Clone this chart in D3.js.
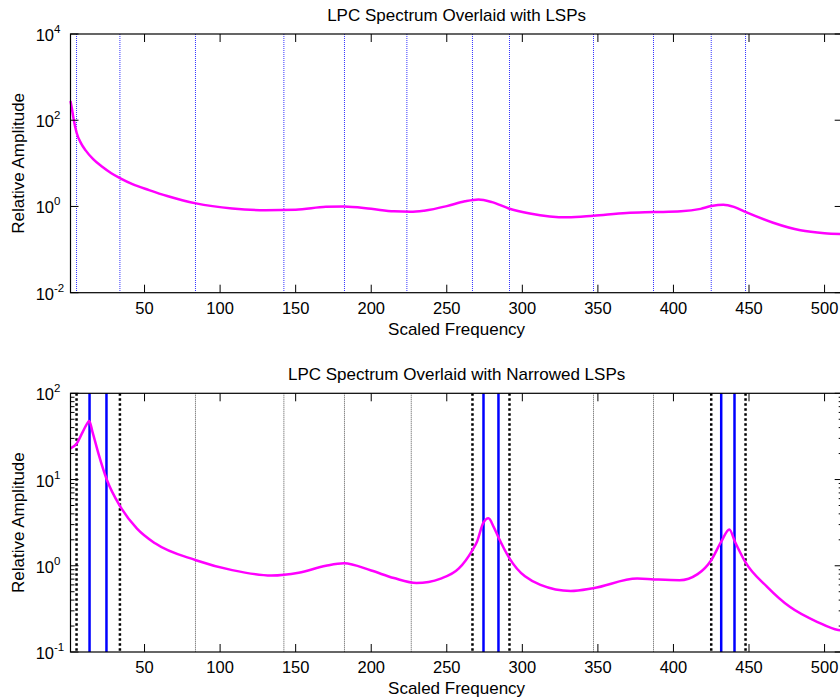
<!DOCTYPE html>
<html>
<head>
<meta charset="utf-8">
<script src="https://cdn.jsdelivr.net/npm/d3@7"></script>
<style>
  body { margin: 0; background: #fff; }
  text { font-family: Arial, "Liberation Sans", sans-serif; fill: #000; }
</style>
</head>
<body>
<div id="chart"></div>
<script>
var width = 840, height = 698;

// LSP frequencies (top plot)
var lspFreqs = [5, 33.7, 83.7, 142.2, 182.3, 223.6, 267, 291.5, 347.1, 386.8, 425, 447.7];
// bottom plot: wide LSPs (thin dotted), pair edges (thick dotted), narrowed LSPs (blue)
var wideLsps = [83.7, 142.2, 182.3, 226.5, 347.1, 386.8];
var pairEdges = [5, 33.7, 267, 291.5, 425, 447.7];
var narrowLsps = [13.6, 24.8, 274.3, 284.2, 431.6, 440.4];

// LPC spectrum
var specFreq = [1, 2, 3, 5, 8, 11, 16, 22, 28, 34, 42, 53, 65, 84, 108, 130, 150, 170, 182, 200, 215, 226, 235, 250, 262, 271, 280, 291, 305, 330, 347, 369, 387, 405, 418, 425, 433, 440, 448, 466, 484, 500, 512];
var specAmp  = [280, 180, 110, 52, 29, 20, 12.5, 8.3, 5.9, 4.5, 3.3, 2.4, 1.75, 1.18, 0.9, 0.82, 0.84, 0.98, 1.0, 0.88, 0.77, 0.75, 0.8, 1.02, 1.32, 1.46, 1.26, 0.9, 0.69, 0.56, 0.61, 0.71, 0.74, 0.77, 0.88, 1.02, 1.1, 0.98, 0.74, 0.42, 0.28, 0.24, 0.23];

// LPC spectrum with narrowed LSPs (bottom plot)
var narrowFreq = [1, 5, 8.5, 11.5, 13.4, 15.5, 19.5, 25, 34, 45, 57, 84, 108, 134, 152, 170, 182, 200, 215, 230, 246, 258, 267, 270, 274, 277.6, 281, 284, 291.5, 312, 332, 347, 376, 387, 404, 416, 425, 431.6, 437, 440.7, 447.5, 462, 477, 495, 509, 512];
var narrowAmp  = [23, 26, 34, 43, 47.8, 36, 20, 10, 4.84, 2.7, 1.82, 1.16, 0.89, 0.77, 0.83, 1.0, 1.07, 0.88, 0.72, 0.63, 0.71, 0.93, 1.52, 1.9, 3.1, 3.55, 2.83, 2.17, 1.22, 0.6, 0.51, 0.55, 0.71, 0.695, 0.68, 0.8, 1.16, 1.9, 2.64, 1.9, 1.11, 0.57, 0.334, 0.224, 0.18, 0.178];

var xTicks = [50, 100, 150, 200, 250, 300, 350, 400, 450, 500];

var svg = d3.select("#chart").append("svg")
    .attr("width", width)
    .attr("height", height);

var x = d3.scaleLinear().domain([1, 512]).range([70.5, 842.7]);

function drawPanel(opt) {
    var y = d3.scaleLog().domain(opt.yDomain).range([opt.bottom, opt.top]);
    var g = svg.append("g");
    var x0 = x.range()[0], x1 = x.range()[1];

    // vertical lines
    opt.lines.forEach(function(set) {
        g.selectAll(null).data(set.data).enter().append("line")
            .attr("x1", function(d) { return x(d); })
            .attr("x2", function(d) { return x(d); })
            .attr("y1", opt.top)
            .attr("y2", opt.bottom)
            .attr("stroke", set.color)
            .attr("stroke-width", set.width)
            .attr("stroke-dasharray", set.dash);
    });

    // spectrum
    var pts = opt.freq.map(function(f, i) { return [f, opt.amp[i]]; });
    var line = d3.line()
        .x(function(d) { return x(d[0]); })
        .y(function(d) { return y(d[1]); })
        .curve(d3.curveMonotoneX);
    g.append("path")
        .datum(pts)
        .attr("d", line)
        .attr("fill", "none")
        .attr("stroke", "#ff00ff")
        .attr("stroke-width", 2.5);

    // box
    g.append("rect")
        .attr("x", x0).attr("y", opt.top)
        .attr("width", x1 - x0).attr("height", opt.bottom - opt.top)
        .attr("fill", "none").attr("stroke", "#000").attr("stroke-width", 1.2);

    // x ticks (top and bottom, inward)
    xTicks.forEach(function(t) {
        g.append("line").attr("x1", x(t)).attr("x2", x(t))
            .attr("y1", opt.bottom).attr("y2", opt.bottom - 8)
            .attr("stroke", "#000");
        g.append("line").attr("x1", x(t)).attr("x2", x(t))
            .attr("y1", opt.top).attr("y2", opt.top + 8)
            .attr("stroke", "#000");
        g.append("text").attr("x", x(t)).attr("y", opt.bottom + 21)
            .attr("text-anchor", "middle").style("font-size", "16.5px")
            .text(t);
    });

    // y ticks
    opt.yTicks.forEach(function(p) {
        var yy = y(Math.pow(10, p));
        g.append("line").attr("x1", x0).attr("x2", x0 + 8)
            .attr("y1", yy).attr("y2", yy).attr("stroke", "#000");
        g.append("line").attr("x1", x1).attr("x2", x1 - 8)
            .attr("y1", yy).attr("y2", yy).attr("stroke", "#000");
        g.append("text").attr("x", 54).attr("y", yy + 7)
            .attr("text-anchor", "end").style("font-size", "16.5px").text("10");
        g.append("text").attr("x", 54).attr("y", yy - 1)
            .style("font-size", "11.5px").text(p);
    });

    // minor ticks
    if (opt.minor) {
        var lo = Math.log10(opt.yDomain[0]), hi = Math.log10(opt.yDomain[1]);
        for (var e = lo; e < hi; e++) {
            for (var m = 2; m <= 9; m++) {
                var yy = y(m * Math.pow(10, e));
                g.append("line").attr("x1", x0).attr("x2", x0 + 4)
                    .attr("y1", yy).attr("y2", yy).attr("stroke", "#000");
                g.append("line").attr("x1", x1).attr("x2", x1 - 4)
                    .attr("y1", yy).attr("y2", yy).attr("stroke", "#000");
            }
        }
    }

    // titles
    g.append("text").attr("x", (x0 + x1) / 2).attr("y", opt.top - 13)
        .attr("text-anchor", "middle").style("font-size", "17px").text(opt.title);
    g.append("text").attr("x", (x0 + x1) / 2).attr("y", opt.bottom + 42)
        .attr("text-anchor", "middle").style("font-size", "17px").text("Scaled Frequency");
    g.append("text")
        .attr("transform", "translate(24," + ((opt.top + opt.bottom) / 2) + ") rotate(-90)")
        .attr("text-anchor", "middle").style("font-size", "17px").text("Relative Amplitude");
}

drawPanel({
    top: 34, bottom: 292.7,
    yDomain: [1e-2, 1e4],
    yTicks: [-2, 0, 2, 4],
    minor: false,
    freq: specFreq, amp: specAmp,
    title: "LPC Spectrum Overlaid with LSPs",
    lines: [
        {data: lspFreqs, color: "#3333ff", width: 1, dash: "1,1"}
    ]
});

drawPanel({
    top: 393.3, bottom: 652,
    yDomain: [1e-1, 1e2],
    yTicks: [-1, 0, 1, 2],
    minor: true,
    freq: narrowFreq, amp: narrowAmp,
    title: "LPC Spectrum Overlaid with Narrowed LSPs",
    lines: [
        {data: wideLsps, color: "#555", width: 1, dash: "1,1"},
        {data: pairEdges, color: "#000", width: 2.5, dash: "2.5,2.5"},
        {data: narrowLsps, color: "#0000ff", width: 2.5, dash: null}
    ]
});
</script>
</body>
</html>
